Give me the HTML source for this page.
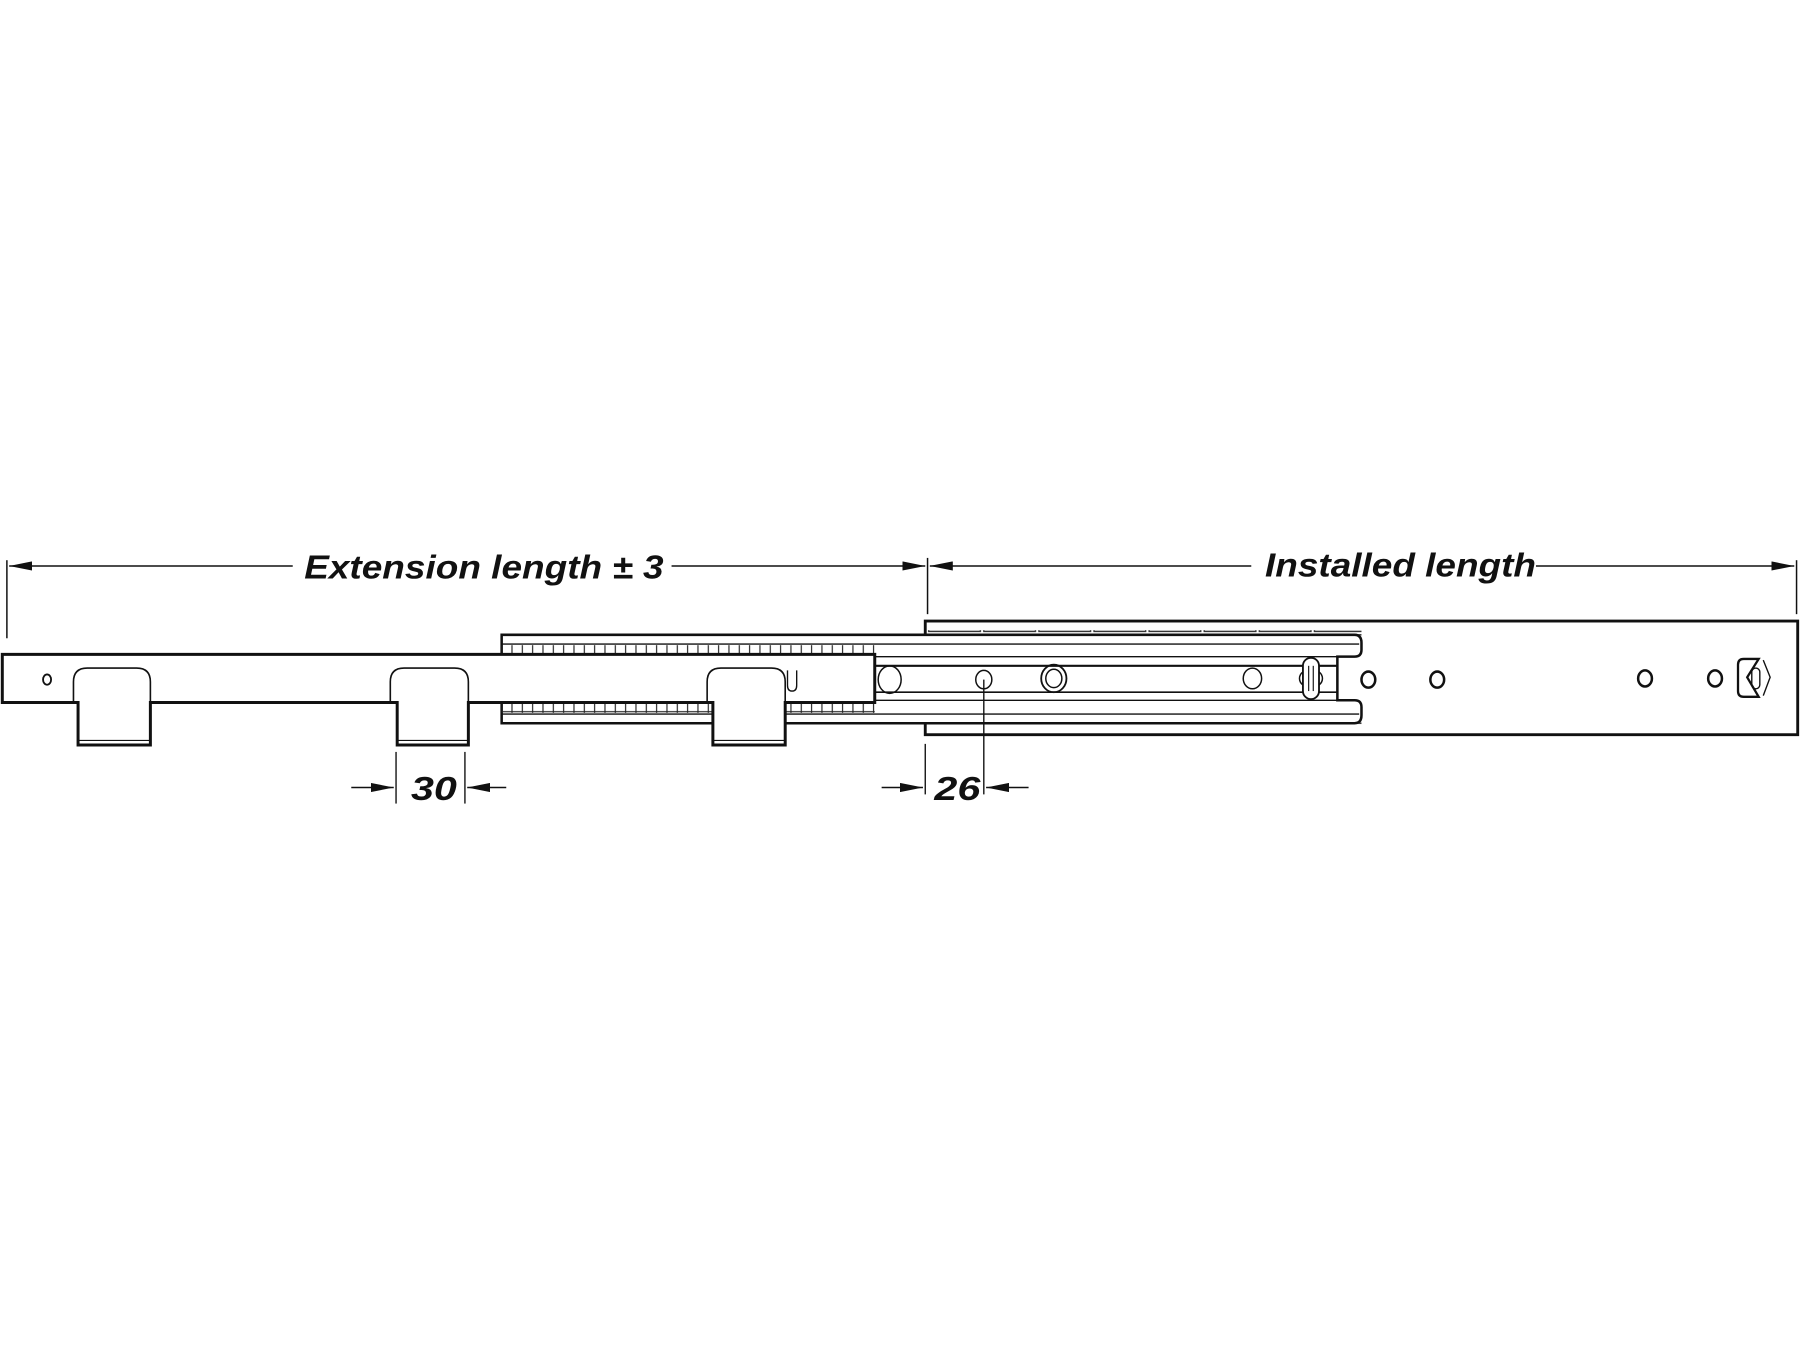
<!DOCTYPE html>
<html><head><meta charset="utf-8"><style>
html,body{margin:0;padding:0;background:#fff;width:1800px;height:1350px;overflow:hidden}
svg{display:block}
text{font-family:"Liberation Sans",sans-serif;font-style:italic;font-weight:bold;fill:#111}
</style></head><body>
<svg width="1800" height="1350" viewBox="0 0 1568 1176" preserveAspectRatio="none" xmlns="http://www.w3.org/2000/svg">
<defs>
<marker id="a" viewBox="0 0 20 8" refX="20" refY="4" markerWidth="20" markerHeight="8" markerUnits="userSpaceOnUse" orient="auto"><path d="M0,0 L20,4 L0,8 Z" fill="#111"/></marker>
<pattern id="lad" x="437" y="0" width="9" height="10" patternUnits="userSpaceOnUse"><rect x="0" y="0" width="9" height="10" fill="none" stroke="#222" stroke-width="1"/></pattern>
<pattern id="dash" x="808" y="0" width="48" height="8" patternUnits="userSpaceOnUse"><rect x="1" y="1" width="45" height="5" fill="none" stroke="#222" stroke-width="1.2"/></pattern>
</defs>
<g stroke="#111" fill="none">
<line x1="6" y1="488" x2="6" y2="556" stroke-width="1.3"/>
<line x1="808" y1="486" x2="808" y2="535" stroke-width="1.3"/>
<line x1="1565" y1="488" x2="1565" y2="535" stroke-width="1.3"/>
<line x1="255" y1="493" x2="8" y2="493" stroke-width="1.3" marker-end="url(#a)"/>
<line x1="585" y1="493" x2="806" y2="493" stroke-width="1.3" marker-end="url(#a)"/>
<line x1="1090" y1="493" x2="810" y2="493" stroke-width="1.3" marker-end="url(#a)"/>
<line x1="1338" y1="493" x2="1563" y2="493" stroke-width="1.3" marker-end="url(#a)"/>

<rect x="806" y="541" width="760" height="99" stroke-width="2.5" fill="#fff"/>
<rect x="808" y="549" width="378" height="7" fill="url(#dash)" stroke="none"/>
<rect x="808" y="625" width="378" height="7" fill="url(#dash)" stroke="none"/>

<path d="M437,553 H1180 Q1186,553 1186,560 V566 Q1186,572 1180,572 H1165 V610 H1180 Q1186,610 1186,616 V623 Q1186,630 1180,630 H437 Z" stroke-width="2.2" fill="#fff"/>
<line x1="437" y1="561" x2="1184" y2="561" stroke-width="1.2"/>
<line x1="437" y1="622" x2="1184" y2="622" stroke-width="1.2"/>
<rect x="437" y="562" width="325" height="8" fill="url(#lad)" stroke="none"/>
<rect x="437" y="612" width="325" height="9" fill="url(#lad)" stroke="none"/>
<line x1="762" y1="580" x2="1165" y2="580" stroke-width="1.8"/>
<line x1="762" y1="603" x2="1165" y2="603" stroke-width="1.4"/>
<line x1="762" y1="572" x2="1165" y2="572" stroke-width="1.2"/>
<line x1="762" y1="610" x2="1165" y2="610" stroke-width="1.2"/>
<ellipse cx="775" cy="592" rx="10" ry="12" stroke-width="1.3"/>
<ellipse cx="857" cy="592" rx="7" ry="8" stroke-width="1.3"/>
<ellipse cx="918" cy="591" rx="11" ry="12" stroke-width="1.6"/>
<ellipse cx="918" cy="591" rx="7" ry="8" stroke-width="1.3"/>
<ellipse cx="1091" cy="591" rx="8" ry="9" stroke-width="1.3"/>
<ellipse cx="1142" cy="591" rx="10" ry="8" stroke-width="1.3"/>
<rect x="1135" y="573" width="14" height="36" rx="7" stroke-width="1.6" fill="#fff"/>
<line x1="1140" y1="580" x2="1140" y2="602" stroke-width="1"/>
<line x1="1144" y1="580" x2="1144" y2="602" stroke-width="1"/>
<ellipse cx="1192" cy="592" rx="6" ry="7" stroke-width="2.2"/>
<ellipse cx="1252" cy="592" rx="6" ry="7" stroke-width="2.2"/>
<ellipse cx="1433" cy="591" rx="6" ry="7" stroke-width="2.2"/>
<ellipse cx="1494" cy="591" rx="6" ry="7" stroke-width="2.2"/>
<path d="M1532,574 H1519 Q1514,574 1514,579 V602 Q1514,607 1519,607 H1532 L1522,590 Z" stroke-width="2"/>
<rect x="1526" y="582" width="7" height="18" rx="3.5" stroke-width="1.2"/>
<path d="M1536,575 L1542,590 L1536,606" stroke-width="1.2"/>

<path d="M2,570 H762 V612 H684 V649 H621 V612 H408 V649 H346 V612 H131 V649 H68 V612 H2 Z" stroke-width="2.6" fill="#fff"/>
<path d="M64,612 V594 Q64,582 76,582 H119 Q131,582 131,594 V612" stroke-width="1.4"/>
<path d="M340,612 V594 Q340,582 352,582 H396 Q408,582 408,594 V612" stroke-width="1.4"/>
<path d="M616,612 V594 Q616,582 628,582 H672 Q684,582 684,594 V612" stroke-width="1.4"/>
<line x1="69" y1="645" x2="130" y2="645" stroke-width="1"/>
<line x1="347" y1="645" x2="407" y2="645" stroke-width="1"/>
<line x1="622" y1="645" x2="683" y2="645" stroke-width="1"/>
<ellipse cx="41" cy="592" rx="3.5" ry="4.5" stroke-width="1.6"/>
<path d="M686,584 V597 Q686,602 690,602 Q694,602 694,597 V584" stroke-width="1.2"/>

<line x1="345" y1="655" x2="345" y2="700" stroke-width="1.2"/>
<line x1="405" y1="655" x2="405" y2="700" stroke-width="1.2"/>
<line x1="306" y1="686" x2="343" y2="686" stroke-width="1.3" marker-end="url(#a)"/>
<line x1="441" y1="686" x2="407" y2="686" stroke-width="1.3" marker-end="url(#a)"/>
<line x1="806" y1="648" x2="806" y2="692" stroke-width="1.2"/>
<line x1="857" y1="592" x2="857" y2="692" stroke-width="1.2"/>
<line x1="768" y1="686" x2="804" y2="686" stroke-width="1.3" marker-end="url(#a)"/>
<line x1="896" y1="686" x2="859" y2="686" stroke-width="1.3" marker-end="url(#a)"/>
</g>
<text x="265" y="504" font-size="29" textLength="313" lengthAdjust="spacingAndGlyphs">Extension length ± 3</text>
<text x="1102" y="502" font-size="29" textLength="236" lengthAdjust="spacingAndGlyphs">Installed length</text>
<text x="358" y="697" font-size="29" textLength="40" lengthAdjust="spacingAndGlyphs">30</text>
<text x="814" y="697" font-size="29" textLength="40" lengthAdjust="spacingAndGlyphs">26</text>
</svg>
</body></html>
